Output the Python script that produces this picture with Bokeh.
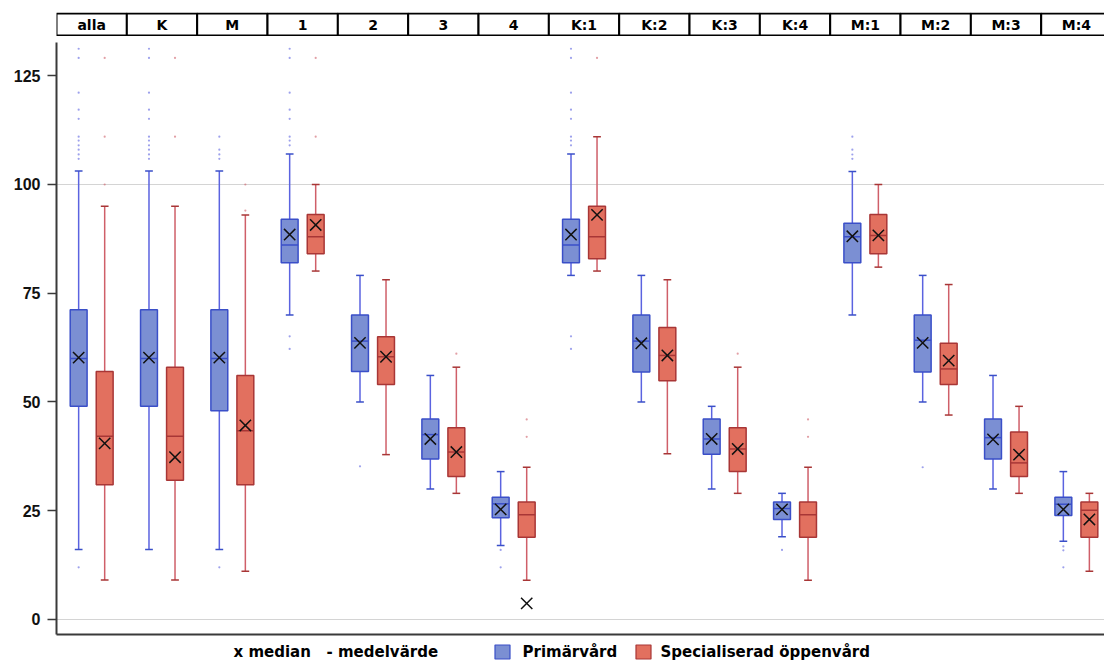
from bokeh.plotting import figure
from bokeh.models import Range1d, FixedTicker, LinearAxis
from bokeh.layouts import column
from bokeh.embed import file_html
from bokeh.resources import INLINE
from bokeh.core.properties import value

# ---------------- data ----------------
groups = ["alla", "K", "M", "1", "2", "3", "4",
          "K:1", "K:2", "K:3", "K:4", "M:1", "M:2", "M:3", "M:4"]
series_names = ["Primärvård", "Specialiserad öppenvård"]
legend_note = "x median\u00a0\u00a0\u00a0- medelvärde"

# Primärvård (blue)
prim_low = [16.1, 16.1, 16.1, 70.0, 50.0, 30.0, 17.0, 79.1, 50.0, 30.0, 19.0, 70.0, 50.0, 30.0, 18.0]
prim_q1 = [49.0, 49.0, 48.0, 82.0, 57.0, 36.9, 23.4, 82.0, 56.9, 38.0, 23.0, 82.0, 56.9, 36.9, 23.9]
prim_q3 = [71.2, 71.2, 71.2, 92.0, 70.0, 46.1, 28.1, 92.0, 70.0, 46.1, 27.0, 91.1, 70.0, 46.1, 28.1]
prim_high = [103.1, 103.1, 103.1, 107.0, 79.1, 56.1, 34.0, 107.0, 79.1, 49.0, 29.0, 103.0, 79.1, 56.1, 34.0]
prim_median = [60.2, 60.2, 60.2, 88.5, 63.6, 41.5, 25.3, 88.5, 63.5, 41.5, 25.3, 88.1, 63.6, 41.4, 25.3]
prim_mean = [60.0, 60.0, 60.0, 86.1, 64.0, 42.5, 26.6, 86.1, 64.0, 41.5, 25.5, 88.0, 64.2, 41.8, 26.5]

# Specialiserad öppenvård (red)
spec_low = [9.1, 9.1, 11.1, 80.1, 37.9, 29.0, 9.0, 80.1, 38.1, 29.0, 9.0, 81.0, 47.0, 29.0, 11.1]
spec_q1 = [31.0, 32.0, 31.0, 84.1, 54.0, 32.9, 18.9, 82.9, 54.9, 34.0, 18.9, 84.1, 54.0, 32.9, 18.9]
spec_q3 = [57.0, 58.0, 56.1, 93.1, 65.0, 44.1, 27.0, 95.0, 67.1, 44.1, 27.0, 93.1, 63.5, 43.1, 27.0]
spec_high = [95.0, 95.0, 93.0, 100.0, 78.1, 58.0, 35.0, 111.0, 78.1, 58.0, 35.0, 100.0, 77.0, 49.0, 29.0]
spec_median = [40.5, 37.3, 44.6, 90.7, 60.4, 38.5, 3.7, 93.0, 60.7, 39.2, float("nan"), 88.3, 59.5, 37.9, 23.0]
spec_mean = [42.1, 42.1, 43.4, 88.0, 60.4, 38.5, 24.1, 88.0, 60.7, 39.2, 24.1, 88.3, 57.6, 36.0, 25.1]

# outliers
prim_out_group = (["alla"] * 12 + ["K"] * 11 + ["M"] * 5 + ["1"] * 10 + ["2"] + ["4"] * 2
                  + ["K:1"] * 10 + ["K:4"] + ["M:1"] * 4 + ["M:2"] + ["M:4"] * 3)
prim_out_value = ([131.2, 129.1, 121.1, 117.2, 115.1, 111.0, 110.1, 109.0, 108.0, 106.9, 105.9, 12.0]
                  + [131.2, 129.1, 121.1, 117.2, 115.1, 111.0, 110.1, 109.0, 108.0, 106.9, 105.9]
                  + [111.0, 108.0, 106.9, 105.9, 12.0]
                  + [131.2, 129.1, 121.1, 117.2, 115.1, 111.0, 110.1, 109.0, 65.1, 62.2]
                  + [35.2]
                  + [16.0, 12.0]
                  + [131.2, 129.1, 121.1, 117.2, 115.1, 111.0, 110.1, 109.0, 65.1, 62.2]
                  + [16.0]
                  + [111.0, 108.0, 106.9, 105.9]
                  + [35.0]
                  + [16.8, 15.9, 12.0])
spec_out_group = (["alla"] * 3 + ["K"] * 2 + ["M"] * 2 + ["1"] * 2 + ["3"] + ["4"] * 2
                  + ["K:1"] + ["K:3"] + ["K:4"] * 2)
spec_out_value = ([129.1, 111.0, 100.0] + [129.1, 111.0] + [100.0, 94.0] + [129.1, 111.0]
                  + [61.1] + [46.0, 42.0] + [129.1] + [61.1] + [46.0, 42.0])

y_ticks = [0, 25, 50, 75, 100, 125]

# ---------------- styles ----------------
BLUE_FILL, BLUE_LINE, BLUE_WHISK = "#7b8fd3", "#3a4fc8", "#5b63e0"
RED_FILL, RED_LINE, RED_WHISK = "#e2705f", "#a83636", "#cf5f69"
OFF = 0.185
BOX_W = 0.24
CAP_W = 0.11
W = 1104
LEFT = 56

xr = Range1d(0, 14.9)
gidx = {g: i for i, g in enumerate(groups)}

# ---------------- header strip ----------------
h = figure(width=W, height=36, x_range=xr, y_range=Range1d(-0.05, 1.05),
           output_backend="svg", toolbar_location=None,
           min_border_left=LEFT, min_border_right=0, min_border_top=12, min_border_bottom=0)
h.axis.visible = False
h.grid.visible = False
h.outline_line_color = None
hx = [i + 0.5 for i in range(len(groups))]
h.rect(x=hx, y=0.5, width=1, height=1, fill_color="white", line_color="black", line_width=2)
h.text(x=hx, y=0.5, text=groups, text_align="center", text_baseline="middle",
       text_font=value("DejaVu Sans"), text_font_style="bold", text_font_size="14px", text_color="black")

# ---------------- main plot ----------------
p = figure(width=W, height=604, x_range=xr, y_range=Range1d(-3.45, 132.64),
           output_backend="svg", toolbar_location=None, x_axis_location=None,
           min_border_left=LEFT, min_border_right=0, min_border_top=6, min_border_bottom=6)
p.outline_line_color = None
p.xgrid.visible = False
p.ygrid.ticker = FixedTicker(ticks=[0, 100])
p.ygrid.grid_line_color = "#d4d4d4"
p.ygrid.grid_line_width = 1

p.yaxis.ticker = FixedTicker(ticks=y_ticks)
p.yaxis.major_label_text_font = "Liberation Sans"
p.yaxis.major_label_text_font_style = "bold"
p.yaxis.major_label_text_font_size = "16px"
p.yaxis.major_label_text_color = "#111111"
p.yaxis.axis_line_color = "#3a3a3a"
p.yaxis.axis_line_width = 2
p.yaxis.major_tick_line_color = "#3a3a3a"
p.yaxis.major_tick_line_width = 1.5
p.yaxis.major_tick_out = 9
p.yaxis.major_tick_in = 0
p.yaxis.minor_tick_line_color = None
p.yaxis.major_label_standoff = 7

# bottom axis: a plain line, no labels
bottom = LinearAxis(ticker=FixedTicker(ticks=[]), axis_line_color="#3a3a3a", axis_line_width=2,
                    major_tick_line_color=None, minor_tick_line_color=None)
p.add_layout(bottom, "below")


def draw_series(shift, low, q1, q3, high, med, mean, fill, line, whisk, out_g, out_v):
    xs = [i + 0.5 + shift for i in range(len(groups))]
    # whiskers
    p.segment(x0=xs, y0=low, x1=xs, y1=q1, line_color=whisk, line_width=1.5)
    p.segment(x0=xs, y0=q3, x1=xs, y1=high, line_color=whisk, line_width=1.5)
    # caps
    xl = [x - CAP_W / 2 for x in xs]
    xrr = [x + CAP_W / 2 for x in xs]
    p.segment(x0=xl, y0=low, x1=xrr, y1=low, line_color=line, line_width=1.5)
    p.segment(x0=xl, y0=high, x1=xrr, y1=high, line_color=line, line_width=1.5)
    # box
    p.vbar(x=xs, width=BOX_W, bottom=q1, top=q3, fill_color=fill, line_color=line, line_width=1.5)
    # mean line
    bl = [x - BOX_W / 2 for x in xs]
    br = [x + BOX_W / 2 for x in xs]
    p.segment(x0=bl, y0=mean, x1=br, y1=mean, line_color=line, line_width=1.5)
    # median X
    p.scatter(x=xs, y=med, marker="x", size=16, line_color="#111111", line_width=1.5)
    # outliers
    ox = [gidx[g] + 0.5 + shift for g in out_g]
    p.scatter(x=ox, y=out_v, marker="circle", size=2.2, fill_color=whisk, line_color=None, fill_alpha=0.6)


draw_series(-OFF, prim_low, prim_q1, prim_q3, prim_high, prim_median, prim_mean,
            BLUE_FILL, BLUE_LINE, BLUE_WHISK, prim_out_group, prim_out_value)
draw_series(OFF, spec_low, spec_q1, spec_q3, spec_high, spec_median, spec_mean,
            RED_FILL, RED_LINE, RED_WHISK, spec_out_group, spec_out_value)

# ---------------- legend strip (frame aligned with the plot frame; x in page pixels) ----------------
lg = figure(width=W, height=24, x_range=Range1d(LEFT, W), y_range=Range1d(0, 24),
            output_backend="svg", toolbar_location=None,
            min_border_left=LEFT, min_border_right=0, min_border_top=0, min_border_bottom=0)
lg.axis.visible = False
lg.grid.visible = False
lg.outline_line_color = None
lg.text(x=[233], y=[13], text=[legend_note], text_align="left", text_baseline="middle",
        text_font=value("DejaVu Sans"), text_font_style="bold", text_font_size="15px", text_color="black")
lg.rect(x=[502, 643], y=12.5, width=15, height=14,
        fill_color=[BLUE_FILL, RED_FILL], line_color=[BLUE_LINE, RED_LINE], line_width=1.2)
lg.text(x=[522, 660], y=13, text=series_names, text_align="left", text_baseline="middle",
        text_font=value("DejaVu Sans"), text_font_style="bold", text_font_size="15px", text_color="black")

layout = column(h, p, lg, spacing=0)
open("out.html", "w").write(file_html(layout, INLINE))
